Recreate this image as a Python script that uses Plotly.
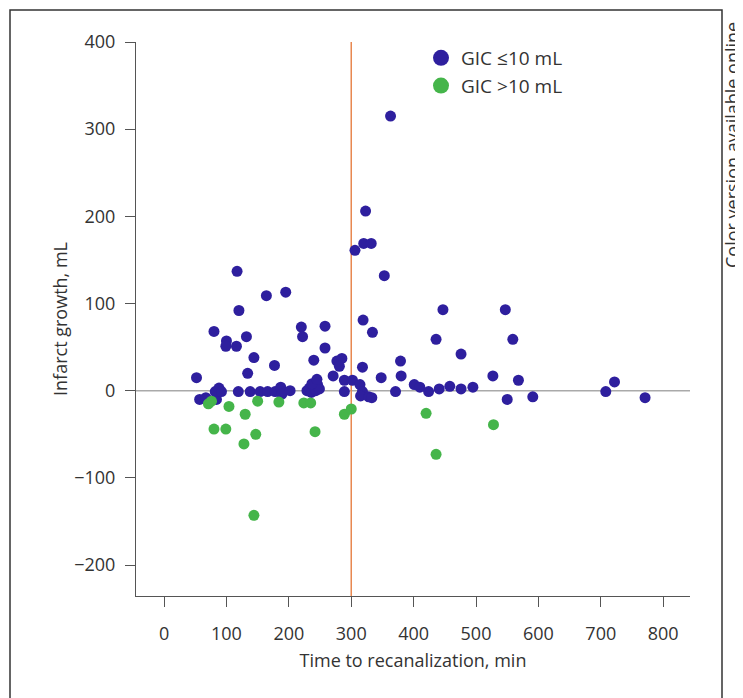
import plotly.graph_objects as go

# GIC <= 10 mL (blue)
blue_time = [52, 57, 67, 84, 80, 82, 88, 92, 100, 99, 116, 117, 120, 119, 132, 134, 144, 138,
             154, 164, 166, 177, 178, 187, 189, 195, 202, 220, 222, 258, 258, 240, 229, 233,
             236, 240, 243, 246, 249, 237, 245, 271, 277, 285, 281, 289, 302, 289, 319, 318,
             314, 318, 315, 328, 306, 320, 332, 323, 353, 363, 334, 348, 379, 380, 333, 371,
             401, 410, 424, 436, 441, 447, 458, 476, 476, 495, 527, 547, 550, 559, 568, 591,
             708, 722, 771]
blue_growth = [15, -10, -8, -10, 68, -1, 3, -1, 57, 51, 51, 137, 92, -1, 62, 20, 38, -1,
               -1, 109, -1, 29, -1, 4, -4, 113, 0, 73, 62, 74, 49, 35, 0, 3,
               -2, 5, 0, 7, 2, 8, 13, 17, 34, 37, 28, 12, 12, -1, 81, 27,
               7, -1, -6, -7, 161, 169, 169, 206, 132, 315, 67, 15, 34, 17, -8, -1,
               7, 4, -1, 59, 2, 93, 5, 42, 2, 4, 17, 93, -10, 59, 12, -7,
               -1, 10, -8]

# GIC > 10 mL (green)
green_time = [71, 76, 104, 130, 150, 184, 224, 235, 289, 300, 80, 99, 147, 128, 242, 144,
              420, 528, 436]
green_growth = [-15, -12, -18, -27, -12, -13, -14, -14, -27, -21, -44, -44, -50, -61, -47, -143,
                -26, -39, -73]

x_ticks = [0, 100, 200, 300, 400, 500, 600, 700, 800]
y_ticks = [-200, -100, 0, 100, 200, 300, 400]
threshold_time = 300

BLUE = "#2e1f9e"
GREEN = "#45b54a"
FONT = "Open Sans"
TXT = "#333333"

fig = go.Figure()
fig.add_trace(go.Scatter(x=blue_time, y=blue_growth, mode="markers", name="GIC ≤10 mL",
                         showlegend=False,
                         marker=dict(color=BLUE, size=11, line=dict(width=0))))
fig.add_trace(go.Scatter(x=green_time, y=green_growth, mode="markers", name="GIC >10 mL",
                         showlegend=False,
                         marker=dict(color=GREEN, size=11, line=dict(width=0))))
# legend entries with larger symbols
fig.add_trace(go.Scatter(x=[None], y=[None], mode="markers", name="GIC ≤10 mL",
                         marker=dict(color=BLUE, size=19)))
fig.add_trace(go.Scatter(x=[None], y=[None], mode="markers", name="GIC >10 mL",
                         marker=dict(color=GREEN, size=19)))

# zero line and threshold line
fig.add_hline(y=0, line=dict(color="#aaaaaa", width=1.5), layer="below")
fig.add_vline(x=threshold_time, line=dict(color="#e8874f", width=1.5), layer="below")

# page body has an 8px margin: figure coords = screen coords - 8
OFF = 8
W, H = 735, 690
L, R, T = 136 - OFF, 53, 42 - OFF
pw, ph = 554, 554
B = H - T - ph
def px(xs): return (xs - OFF - L) / pw
def py(ys): return (H - B - (ys - OFF)) / ph

fig.add_shape(type="rect", xref="paper", yref="paper",
              x0=px(10), x1=px(722), y0=py(720), y1=py(10),
              line=dict(color="#333333", width=1.5))

fig.add_annotation(text="Color version available online", xref="paper", yref="paper",
                   x=px(732), y=py(145), textangle=-90, showarrow=False,
                   xanchor="center", yanchor="middle",
                   font=dict(family=FONT, size=18, color=TXT))

fig.update_layout(
    width=W, height=H,
    margin=dict(l=L, r=R, t=T, b=B),
    plot_bgcolor="white", paper_bgcolor="white",
    font=dict(family=FONT, size=18, color=TXT),
    showlegend=True,
    legend=dict(x=px(421), y=py(39), xanchor="left", yanchor="top",
                font=dict(family=FONT, size=19, color=TXT),
                itemsizing="trace", bgcolor="rgba(0,0,0,0)", tracegroupgap=0),
    xaxis=dict(range=[-45, 843], tickvals=x_ticks, ticks="outside", ticklen=10,
               tickcolor="#555555", showline=True, linecolor="#555555", linewidth=1,
               showgrid=False, zeroline=False, ticklabelstandoff=11,
               tickfont=dict(family=FONT, size=18, color=TXT),
               title=dict(text="Time to recanalization, min", standoff=10,
                          font=dict(family=FONT, size=18, color=TXT))),
    yaxis=dict(range=[-235.5, 400], tickvals=y_ticks,
               ticktext=[("−" + str(-v)) if v < 0 else str(v) for v in y_ticks],
               ticks="outside", ticklen=10, ticklabelstandoff=6,
               tickcolor="#555555", showline=True, linecolor="#555555", linewidth=1,
               showgrid=False, zeroline=False,
               tickfont=dict(family=FONT, size=18, color=TXT),
               title=dict(text="Infarct growth, mL", standoff=1,
                          font=dict(family=FONT, size=18, color=TXT))),
)

fig.write_html("out.html")
